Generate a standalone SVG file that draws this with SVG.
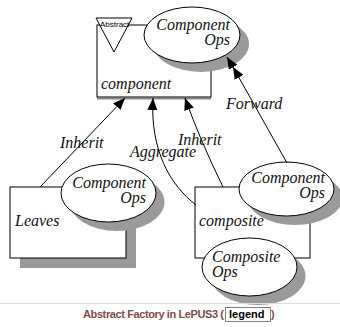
<svg xmlns="http://www.w3.org/2000/svg" width="340" height="327" viewBox="0 0 340 327">
  <style>
    .box { fill: #ffffff; stroke: #000000; stroke-width: 1; }
    .shadow { fill: #9a9a9a; stroke: none; }
    .oval { fill: #ffffff; stroke: #000000; stroke-width: 1; }
    .lbl { font-family: "Liberation Serif", "Times New Roman", serif; font-style: italic; font-size: 16px; fill: #111111; }
    .edge { fill: none; stroke: #000000; stroke-width: 1; }
    .cap { font-family: "Liberation Sans", Arial, sans-serif; font-weight: bold; font-size: 11px; }
  </style>
  <defs>
    <marker id="arrow" markerUnits="userSpaceOnUse" markerWidth="12" markerHeight="10" viewBox="0 0 12 10" refX="12" refY="5" orient="auto">
      <path d="M0,0 L12,5 L0,10 Z" fill="#000000"/>
    </marker>
  </defs>

  <rect x="0" y="0" width="340" height="327" fill="#ffffff"/>

  <!-- component: abstract class with its operations -->
  <g id="component">
    <line x1="97" y1="98.5" x2="211" y2="98.5" stroke="#8a8a8a" stroke-width="2"/>
    <rect class="box" x="97" y="25" width="114" height="72"/>
    <text class="lbl" x="101" y="89">component</text>
    <polygon points="96,18 132,18 114,52" fill="#ffffff" stroke="#000000" stroke-width="1"/>
    <text x="100" y="27" font-family="Liberation Sans, Arial, sans-serif" font-size="8" fill="#000000">Abstract</text>
  </g>
  <g id="component-ops">
    <ellipse class="shadow" cx="201" cy="44" rx="48" ry="28"/>
    <ellipse class="oval" cx="192" cy="35" rx="48" ry="28"/>
    <text class="lbl" x="230" y="30" text-anchor="end">Component</text>
    <text class="lbl" x="230" y="45" text-anchor="end">Ops</text>
  </g>

  <!-- leaves -->
  <g id="leaves">
    <rect class="shadow" x="20" y="197" width="116" height="71"/>
    <rect class="box" x="10" y="187" width="116" height="71"/>
    <text class="lbl" x="15" y="226">Leaves</text>
  </g>
  <g id="leaves-ops">
    <ellipse class="shadow" cx="117" cy="202" rx="47.5" ry="29"/>
    <ellipse class="oval" cx="108.5" cy="193" rx="47.5" ry="29"/>
    <text class="lbl" x="146" y="188" text-anchor="end">Component</text>
    <text class="lbl" x="146" y="203" text-anchor="end">Ops</text>
  </g>

  <!-- composite -->
  <g id="composite">
    <rect class="box" x="195" y="187" width="115" height="71"/>
    <text class="lbl" x="199" y="226">composite</text>
  </g>
  <g id="composite-component-ops">
    <ellipse class="shadow" cx="295" cy="198" rx="47.5" ry="27"/>
    <ellipse class="oval" cx="286.5" cy="189" rx="47.5" ry="27"/>
    <text class="lbl" x="325" y="183" text-anchor="end">Component</text>
    <text class="lbl" x="325" y="198" text-anchor="end">Ops</text>
  </g>
  <g id="composite-ops">
    <ellipse class="shadow" cx="258" cy="276" rx="47.5" ry="29"/>
    <ellipse class="oval" cx="249.5" cy="267" rx="47.5" ry="29"/>
    <text class="lbl" x="212" y="262">Composite</text>
    <text class="lbl" x="212" y="277">Ops</text>
  </g>

  <!-- relations -->
  <g id="connectors">
    <path class="edge" d="M40,187 L125,98" marker-end="url(#arrow)"/>
    <path class="edge" d="M196,205 C170,185 150,150 153,98" marker-end="url(#arrow)"/>
    <path class="edge" d="M223,187 Q200,140 185,98" marker-end="url(#arrow)"/>
    <path class="edge" d="M287,163 L233,67 L227,57" marker-mid="url(#arrow)" marker-end="url(#arrow)"/>
    <text class="lbl" x="60" y="148">Inherit</text>
    <text class="lbl" x="130" y="157">Aggregate</text>
    <text class="lbl" x="178" y="145">Inherit</text>
    <text class="lbl" x="226" y="109">Forward</text>
  </g>

  <!-- caption -->
  <line x1="0" y1="303.5" x2="340" y2="303.5" stroke="#dddddd" stroke-width="1"/>
  <text class="cap" x="83" y="318" fill="#7e4c4c" font-size="10.5" textLength="141" lengthAdjust="spacing">Abstract Factory in LePUS3 (</text>
  <text class="cap" x="229" y="318" fill="#000000" font-size="13">legend</text>
  <text class="cap" x="271" y="318" fill="#7e4c4c" font-size="10.5">)</text>
  <rect x="225.5" y="307.5" width="45" height="14" fill="none" stroke="#000000" stroke-width="1" stroke-dasharray="1,1"/>
</svg>
